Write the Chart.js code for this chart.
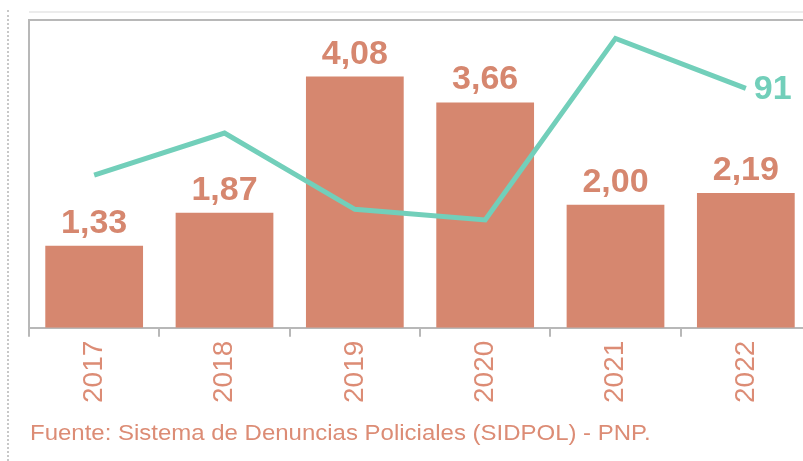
<!DOCTYPE html>
<html>
<head>
<meta charset="utf-8">
<script src="https://cdn.jsdelivr.net/npm/chart.js@4/dist/chart.umd.min.js"></script>
<style>
  html, body { margin: 0; padding: 0; background: #fff; overflow: hidden; }
  body { width: 803px; height: 461px; position: relative; font-family: "Liberation Sans", Arial, sans-serif; }
  #wrap { position: absolute; left: 0; top: 0; width: 830px; height: 461px; }
  #dots { position: absolute; left: 7px; top: 10px; height: 451px; border-left: 2px dotted #c8c8c8; }
  #rule { position: absolute; left: 29px; top: 11px; width: 780px; border-top: 2px solid #ececec; }
  #source { position: absolute; left: 30px; top: 420px; font-size: 22px; color: #dc8c75; white-space: nowrap;
            transform: scaleX(1.09); transform-origin: left top; }
</style>
</head>
<body>
<div id="dots"></div>
<div id="rule"></div>
<div id="wrap"><canvas id="chart" width="830" height="461"></canvas></div>
<div id="source">Fuente: Sistema de Denuncias Policiales (SIDPOL) - PNP.</div>
<script>
// years on the x axis
const years = ["2017", "2018", "2019", "2020", "2021", "2022"];
// bar series (left scale)
const barValues = [1.33, 1.87, 4.08, 3.66, 2.00, 2.19];
// line series (hidden right scale), only the last value is printed
const lineValues = [58, 74, 45, 41, 110, 91];

const barColor = "#d6876f";
const lineColor = "#72cfba";
const axisColor = "#b8b8b8";

function fmt(v) {
  return v.toFixed(2).replace(".", ",");
}

// draws the numbers above the bars and the last point of the line
const valueLabels = {
  id: "valueLabels",
  afterDatasetsDraw(chart) {
    const ctx = chart.ctx;
    ctx.save();
    ctx.font = "bold 34px 'Liberation Sans', Arial, sans-serif";

    const bars = chart.getDatasetMeta(1).data;
    ctx.fillStyle = barColor;
    ctx.textAlign = "center";
    ctx.textBaseline = "alphabetic";
    bars.forEach((bar, i) => {
      ctx.fillText(fmt(barValues[i]), bar.x, bar.y - 13);
    });

    const pts = chart.getDatasetMeta(0).data;
    const last = pts[pts.length - 1];
    ctx.fillStyle = lineColor;
    ctx.textAlign = "left";
    ctx.textBaseline = "middle";
    ctx.fillText(String(lineValues[lineValues.length - 1]), last.x + 8, last.y + 1);
    ctx.restore();
  }
};

new Chart(document.getElementById("chart"), {
  data: {
    labels: years,
    datasets: [
      {
        type: "line",
        data: lineValues,
        yAxisID: "y2",
        borderColor: lineColor,
        borderWidth: 5,
        borderJoinStyle: "miter",
        pointRadius: 0,
        tension: 0,
        order: 0
      },
      {
        type: "bar",
        data: barValues,
        yAxisID: "y",
        backgroundColor: barColor,
        categoryPercentage: 0.75,
        barPercentage: 1,
        order: 1
      }
    ]
  },
  options: {
    responsive: false,
    animation: false,
    layout: { padding: { left: 29, top: 20, right: 19, bottom: 54 } },
    plugins: { legend: { display: false }, tooltip: { enabled: false } },
    scales: {
      x: {
        position: "bottom",
        grid: { display: true, drawOnChartArea: false, drawTicks: true, tickLength: 9, offset: true, color: axisColor, lineWidth: 2 },
        border: { color: axisColor, width: 2 },
        ticks: {
          minRotation: 90,
          maxRotation: 90,
          padding: 4,
          color: "#dc8c75",
          font: { family: "'Liberation Sans', Arial, sans-serif", size: 28 }
        }
      },
      xTop: {
        position: "top",
        grid: { display: false, drawTicks: false },
        border: { color: axisColor, width: 2 },
        ticks: { display: false }
      },
      y: {
        min: 0,
        max: 5,
        grid: { display: false, drawTicks: false },
        border: { color: axisColor, width: 2 },
        ticks: { display: false }
      },
      y2: {
        display: false,
        min: 0,
        max: 117
      }
    }
  },
  plugins: [valueLabels]
});
</script>
</body>
</html>
